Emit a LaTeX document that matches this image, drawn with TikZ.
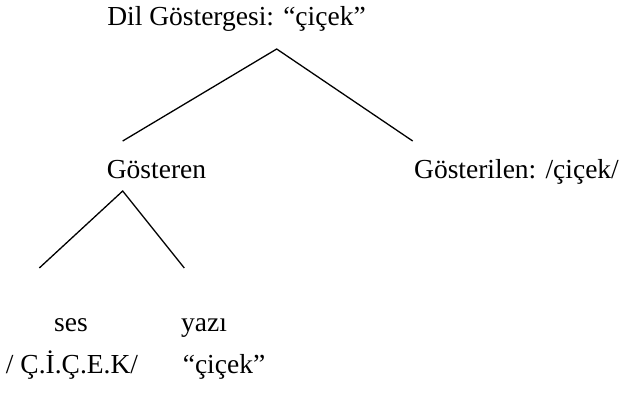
\documentclass[tikz,border=0pt]{standalone}
\usepackage{fontspec}
\setmainfont{Liberation Serif}
\begin{document}
\begin{tikzpicture}[x=1pt,y=-1pt,
  lbl/.style={anchor=base,inner sep=0pt,font=\fontsize{27.5}{30}\selectfont},
  branch/.style={line width=1.3pt,line join=miter}]
\useasboundingbox (0,0) rectangle (622,392);
\node[lbl] (sign) at (236.5,25) {Dil Göstergesi: “çiçek”};
\node[lbl] (signifier) at (156.5,178) {Gösteren};
\node[lbl] (signified) at (516.5,178) {Gösterilen: /çiçek/};
\node[lbl] (ses) at (71,331) {ses};
\node[lbl] (yazi) at (204,331) {yazı};
\node[lbl] (sesx) at (72,373) {/ Ç.İ.Ç.E.K/};
\node[lbl] (yazix) at (224,373) {“çiçek”};
\coordinate (top) at (276.7,49);
\coordinate (topL) at (122.7,141);
\coordinate (topR) at (412.7,141);
\coordinate (low) at (122.7,191);
\coordinate (lowL) at (39.3,268);
\coordinate (lowR) at (184.3,268);
\draw[branch] (topL) -- (top) -- (topR);
\draw[branch] (lowL) -- (low) -- (lowR);
\end{tikzpicture}
\end{document}
